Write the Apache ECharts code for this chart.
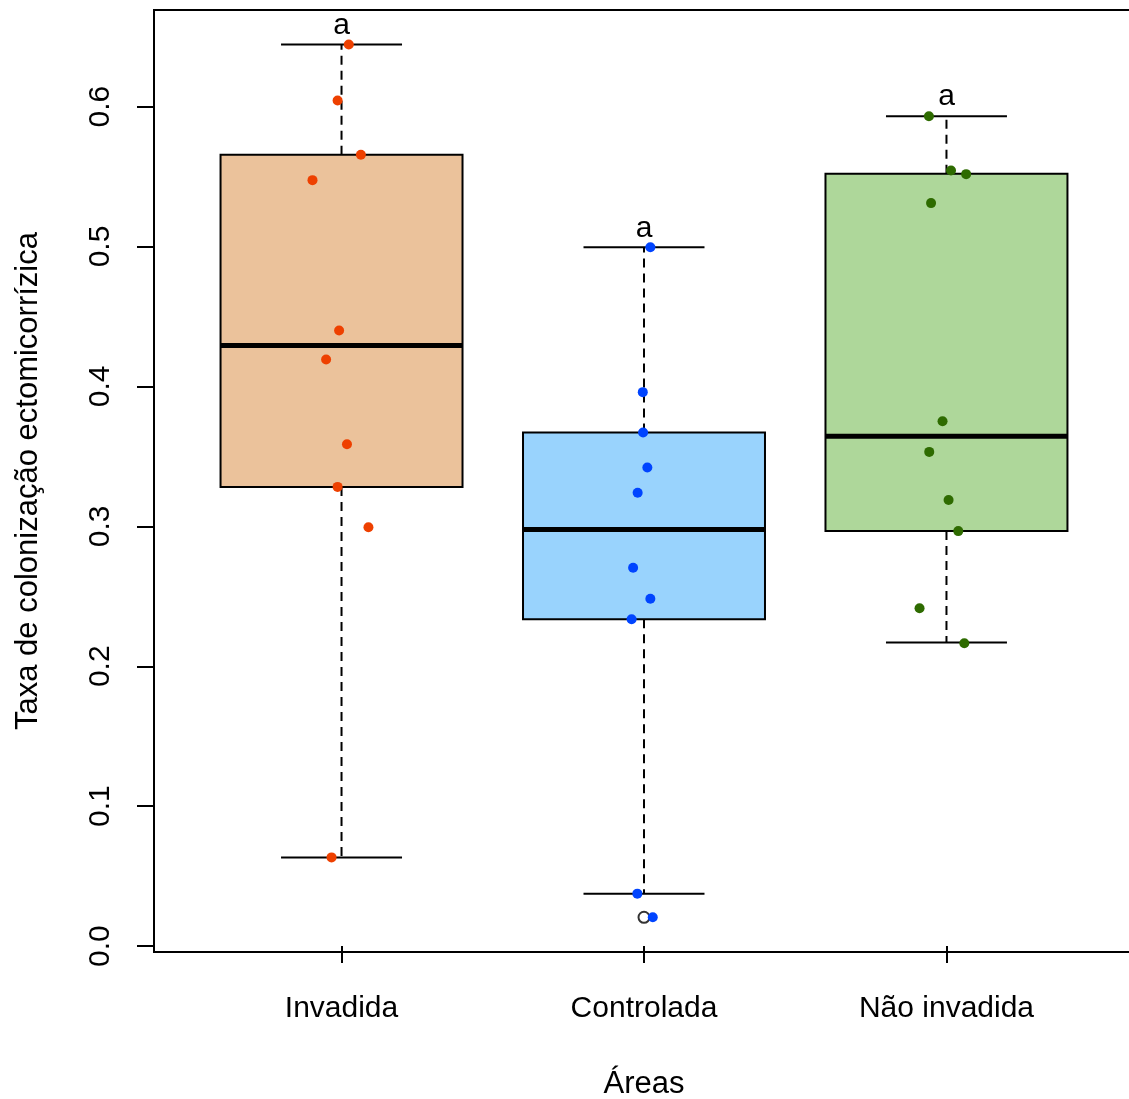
<!DOCTYPE html>
<html><head><meta charset="utf-8">
<script src="https://cdn.jsdelivr.net/npm/echarts@6/dist/echarts.min.js"></script>
<style>html,body{margin:0;padding:0;background:#fff}#c{width:1129px;height:1099px}</style>
</head><body><div id="c"></div>
<script>
// ---- data ----
const categories = ['Invadida', 'Controlada', 'Não invadida'];
const yTicks = [0, 0.1, 0.2, 0.3, 0.4, 0.5, 0.6];
const lowerWhisker = [0.0634, 0.0375, 0.2169];
const q1 = [0.3282, 0.2336, 0.2966];
const median = [0.4292, 0.2978, 0.3644];
const q3 = [0.5655, 0.3671, 0.5520];
const upperWhisker = [0.6443, 0.4994, 0.5931];
const outlierGroup = [2];
const outlierValue = [0.0206];
const letters = ['a', 'a', 'a'];

const invadidaValues = [0.6443, 0.6043, 0.5655, 0.5474, 0.4399, 0.4192, 0.3587, 0.3282, 0.2993, 0.0634];
const invadidaJitter = [0.024, -0.013, 0.064, -0.096, -0.008, -0.051, 0.018, -0.013, 0.089, -0.033];
const controladaValues = [0.4994, 0.3959, 0.3671, 0.3421, 0.3240, 0.2704, 0.2483, 0.2336, 0.0375, 0.0206];
const controladaJitter = [0.021, -0.004, -0.003, 0.011, -0.021, -0.036, 0.021, -0.041, -0.022, 0.029];
const naoInvadidaValues = [0.5931, 0.5543, 0.5517, 0.5310, 0.3751, 0.3532, 0.3188, 0.2966, 0.2414, 0.2165];
const naoInvadidaJitter = [-0.058, 0.015, 0.065, -0.051, -0.013, -0.057, 0.007, 0.039, -0.089, 0.059];

// ---- styles ----
const boxFills = ['#EBC29B', '#99D3FD', '#AED79A'];
const pointColors = ['#EE4000', '#0044FF', '#2E6B00'];
const FONT = '"Liberation Sans", Arial, sans-serif';

const boxData = categories.map((c, i) => [i + 1, lowerWhisker[i], q1[i], median[i], q3[i], upperWhisker[i]]);
const groups = [[invadidaValues, invadidaJitter], [controladaValues, controladaJitter], [naoInvadidaValues, naoInvadidaJitter]];

const chart = echarts.init(document.getElementById('c'), null, {renderer: 'canvas'});
const series = [{
  type: 'custom',
  clip: false,
  z: 2,
  data: boxData,
  encode: {x: 0, y: [1, 2, 3, 4, 5]},
  renderItem: function (params, api) {
    const idx = params.dataIndex;
    const xv = api.value(0);
    const lo = api.coord([xv, api.value(1)]);
    const b1 = api.coord([xv, api.value(2)]);
    const md = api.coord([xv, api.value(3)]);
    const b3 = api.coord([xv, api.value(4)]);
    const hi = api.coord([xv, api.value(5)]);
    const halfBox = api.size([0.4, 0])[0];
    const halfCap = api.size([0.2, 0])[0];
    const x = lo[0];
    const dashed = {stroke: '#000', lineWidth: 2, lineDash: [9, 6]};
    const solid = {stroke: '#000', lineWidth: 2};
    return {type: 'group', children: [
      {type: 'line', shape: {x1: x, y1: b3[1], x2: x, y2: hi[1]}, style: dashed},
      {type: 'line', shape: {x1: x, y1: b1[1], x2: x, y2: lo[1]}, style: dashed},
      {type: 'line', shape: {x1: x - halfCap, y1: hi[1], x2: x + halfCap, y2: hi[1]}, style: solid},
      {type: 'line', shape: {x1: x - halfCap, y1: lo[1], x2: x + halfCap, y2: lo[1]}, style: solid},
      {type: 'rect', shape: {x: x - halfBox, y: b3[1], width: 2 * halfBox, height: b1[1] - b3[1]},
        style: {fill: boxFills[idx], stroke: '#000', lineWidth: 2}},
      {type: 'line', shape: {x1: x - halfBox, y1: md[1], x2: x + halfBox, y2: md[1]}, style: {stroke: '#000', lineWidth: 5}},
      {type: 'text', style: {text: letters[idx], x: x, y: hi[1] - 4, align: 'center', verticalAlign: 'bottom',
        font: '30px ' + FONT, fill: '#000'}}
    ]};
  }
}, {
  type: 'scatter',
  z: 3,
  symbol: 'emptyCircle',
  symbolSize: 11,
  itemStyle: {color: '#000', borderColor: '#000', borderWidth: 2},
  data: outlierGroup.map((g, i) => [g, outlierValue[i]]),
  silent: true
}];
groups.forEach(([vals, jit], gi) => {
  series.push({
    type: 'scatter',
    z: 4,
    symbol: 'circle',
    symbolSize: 10,
    itemStyle: {color: pointColors[gi], opacity: 1},
    data: vals.map((v, k) => [gi + 1 + jit[k], v]),
    silent: true
  });
});

chart.setOption({
  animation: false,
  backgroundColor: '#fff',
  grid: {left: 154, top: 10, width: 980, height: 942, outerBoundsMode: 'none', containLabel: false,
    show: true, borderColor: '#000', borderWidth: 2, backgroundColor: 'transparent'},
  xAxis: {
    type: 'value', min: 0.38, max: 3.62,
    splitLine: {show: false},
    axisLine: {show: false},
    axisTick: {show: true, length: 17, inside: false, customValues: [1, 2, 3], lineStyle: {color: '#000', width: 2}},
    axisLabel: {show: true, customValues: [1, 2, 3], formatter: v => categories[Math.round(v) - 1],
      color: '#000', fontFamily: FONT, fontSize: 30, margin: 42},
    name: 'Áreas', nameLocation: 'middle', nameGap: 117,
    nameTextStyle: {color: '#000', fontFamily: FONT, fontSize: 31}
  },
  yAxis: {
    type: 'value', min: -0.0042, max: 0.669,
    splitLine: {show: false},
    axisLine: {show: false},
    axisTick: {show: true, length: 17, inside: false, customValues: yTicks, lineStyle: {color: '#000', width: 2}},
    axisLabel: {show: true, customValues: yTicks, rotate: 90, formatter: v => v.toFixed(1),
      color: '#000', fontFamily: FONT, fontSize: 30, margin: 38},
    name: 'Taxa de colonização ectomicorrízica', nameLocation: 'middle', nameGap: 110,
    nameTextStyle: {color: '#000', fontFamily: FONT, fontSize: 31}
  },
  series: series
});
</script></body></html>
